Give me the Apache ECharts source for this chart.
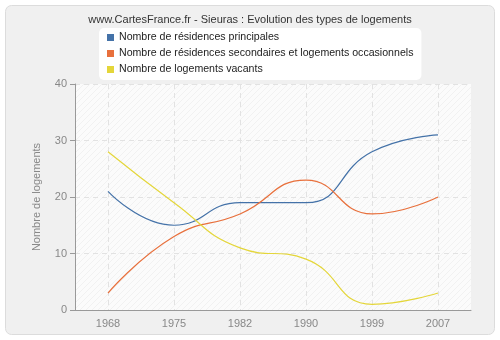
<!DOCTYPE html>
<html><head><meta charset="utf-8">
<script src="https://cdn.jsdelivr.net/npm/echarts@6/dist/echarts.min.js"></script>
<style>html,body{margin:0;padding:0;background:#fff}#c{width:500px;height:340px}</style>
</head><body><div id="c"></div>
<script>
const categories = ['1968', '1975', '1982', '1990', '1999', '2007'];
const principales = [21, 15, 19, 19, 28, 31];
const secondaires = [3, 13, 17, 23, 17, 20];
const vacants = [28, 19, 11, 9, 1, 3];
const seriesNames = ['Nombre de résidences principales', 'Nombre de résidences secondaires et logements occasionnels', 'Nombre de logements vacants'];
const colors = ['#4472a8', '#e8703c', '#e4d63a'];

// half-band helper axis for split lines at category centres
const helperCats = [];
for (let i = 0; i <= categories.length * 2; i++) helperCats.push(String(i));

const pc = document.createElement('canvas');
pc.width = 6; pc.height = 6;
const g = pc.getContext('2d');
g.fillStyle = '#fbfbfb'; g.fillRect(0, 0, 6, 6);
g.strokeStyle = '#f1f1f1'; g.lineWidth = 1;
g.beginPath(); g.moveTo(0, 6); g.lineTo(6, 0); g.stroke();
g.beginPath(); g.moveTo(-1, 1); g.lineTo(1, -1); g.stroke();
g.beginPath(); g.moveTo(5, 7); g.lineTo(7, 5); g.stroke();

const chart = echarts.init(document.getElementById('c'), null, {renderer: 'canvas'});
const font = 'Liberation Sans, Arial, sans-serif';
chart.setOption({
  animation: false,
  textStyle: {fontFamily: font},
  graphic: [{
    type: 'rect', z: -10, silent: true,
    shape: {x: 5.5, y: 5.5, width: 489, height: 329, r: 6},
    style: {fill: '#f0f0f0', stroke: '#dcdcdc', lineWidth: 1}
  }],
  title: {
    text: 'www.CartesFrance.fr - Sieuras : Evolution des types de logements',
    left: 'center', top: 9,
    textStyle: {fontSize: 11, fontWeight: 'normal', color: '#333', fontFamily: font}
  },
  legend: {
    orient: 'vertical', left: 99, top: 28,
    backgroundColor: '#fff', borderRadius: 5,
    padding: [4, 8, 5, 8],
    itemWidth: 7, itemHeight: 7, itemGap: 5, icon: 'rect',
    textStyle: {fontSize: 10.6, color: '#222', fontFamily: font},
    data: seriesNames
  },
  grid: {
    left: 75, right: 29, top: 84, bottom: 30,
    show: true, borderWidth: 0,
    backgroundColor: {image: pc, repeat: 'repeat'}
  },
  xAxis: [{
    type: 'category', data: categories, boundaryGap: true,
    axisLine: {lineStyle: {color: '#999'}},
    axisTick: {alignWithLabel: true, length: 5, lineStyle: {color: '#999'}},
    axisLabel: {color: '#888', fontSize: 11, margin: 8, fontFamily: font},
    splitLine: {show: false}
  }, {
    type: 'category', data: helperCats, boundaryGap: false, position: 'bottom',
    axisLine: {show: false}, axisTick: {show: false}, axisLabel: {show: false},
    splitLine: {show: true, interval: (i) => i % 2 === 1,
      lineStyle: {color: '#e2e2e2', type: [5, 4], width: 1}}
  }],
  yAxis: {
    type: 'value', min: 0, max: 40, interval: 10,
    name: 'Nombre de logements', nameLocation: 'middle', nameGap: 33,
    nameTextStyle: {color: '#888', fontSize: 11, fontFamily: font},
    axisLine: {show: true, lineStyle: {color: '#999'}},
    axisTick: {show: true, length: 5, lineStyle: {color: '#999'}},
    axisLabel: {color: '#888', fontSize: 11, margin: 8, fontFamily: font},
    splitLine: {show: true, lineStyle: {color: '#e2e2e2', type: [5, 4], width: 1}}
  },
  series: [principales, secondaires, vacants].map((d, i) => ({
    name: seriesNames[i], type: 'line', data: d, xAxisIndex: 0,
    smooth: 0.5, showSymbol: false, symbol: 'none',
    itemStyle: {color: colors[i]},
    lineStyle: {color: colors[i], width: 1.2}
  }))
});
</script></body></html>
